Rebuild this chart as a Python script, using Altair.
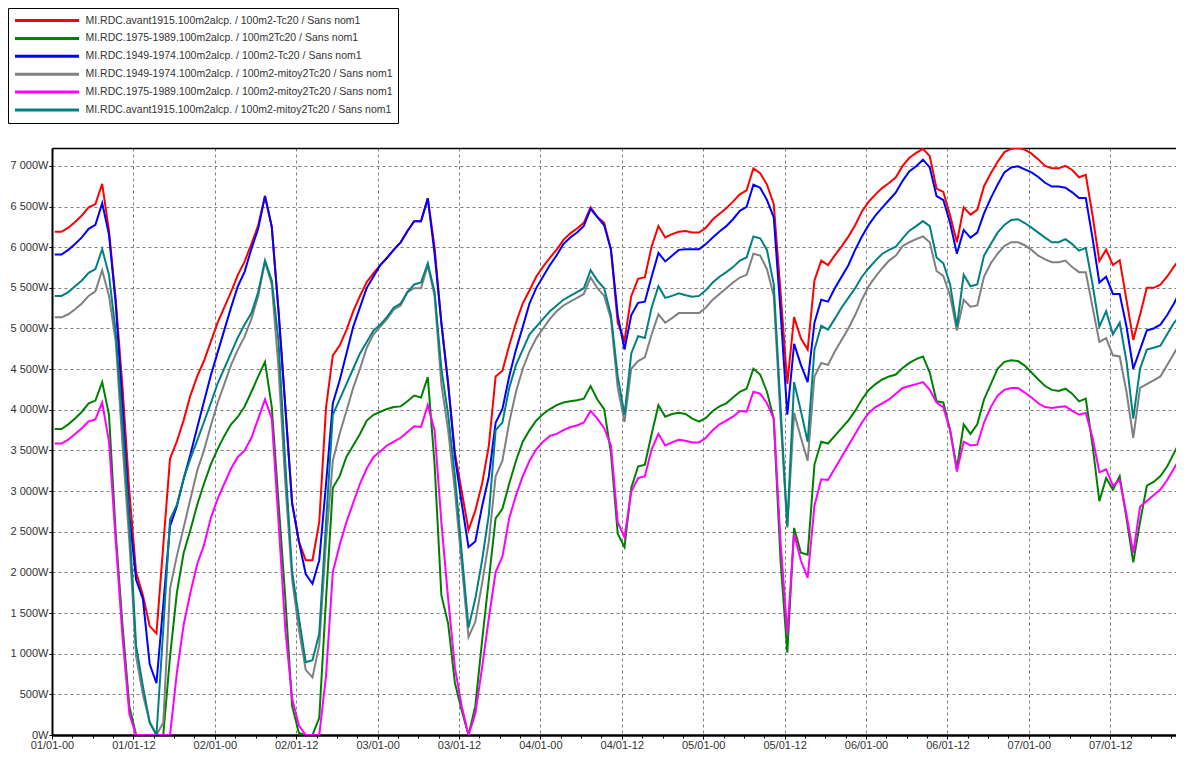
import altair as alt
import pandas as pd

FONT = "Liberation Sans"

series_names = [
    "MI.RDC.avant1915.100m2alcp. / 100m2-Tc20 / Sans nom1",
    "MI.RDC.1975-1989.100m2alcp. / 100m2Tc20 / Sans nom1",
    "MI.RDC.1949-1974.100m2alcp. / 100m2-Tc20 / Sans nom1",
    "MI.RDC.1949-1974.100m2alcp. / 100m2-mitoy2Tc20 / Sans nom1",
    "MI.RDC.1975-1989.100m2alcp. / 100m2-mitoy2Tc20 / Sans nom1",
    "MI.RDC.avant1915.100m2alcp. / 100m2-mitoy2Tc20 / Sans nom1",
]
series_colors = ["#ff0000", "#008000", "#0000ff", "#808080", "#ff00ff", "#008080"]

# hourly time stamps (hours since 01/01-00)
hours = [i + 0.4 for i in range(168)]

red = [
    6190, 6190, 6240, 6310, 6390, 6490, 6530, 6780, 6200, 5350, 4270, 3000,
    2000, 1720, 1340, 1250, 2330, 3400, 3610, 3870, 4175, 4410, 4600, 4835,
    5070, 5260, 5450, 5660, 5825, 6040, 6270, 6630, 6250, 5210, 4030, 2850,
    2380, 2150, 2150, 2620, 4030, 4670, 4790, 4980, 5210, 5400, 5570, 5680,
    5780, 5870, 5970, 6060, 6200, 6320, 6320, 6600, 6000, 5070, 4320, 3470,
    3000, 2520, 2760, 3090, 3560, 4410, 4480, 4790, 5070, 5310, 5470, 5640,
    5760, 5870, 5970, 6090, 6170, 6230, 6300, 6490, 6370, 6300, 5970, 5070,
    4850, 5400, 5610, 5630, 6010, 6260, 6120, 6160, 6190, 6200, 6180, 6180,
    6240, 6340, 6410, 6480, 6560, 6650, 6700, 6970, 6910, 6770, 6530, 5450,
    4320, 5140, 4880, 4740, 5590, 5835, 5780, 5900, 6010, 6130, 6270, 6440,
    6560, 6650, 6730, 6790, 6860, 7000, 7100, 7160, 7210, 7120, 6720, 6680,
    6390, 6060, 6490, 6400, 6460, 6750, 6910, 7050, 7170, 7210, 7220, 7200,
    7150, 7080, 7000, 6970, 6970, 7000, 6950, 6860, 6890, 6390, 5830, 5970,
    5780, 5840, 5350, 4860, 5170, 5500, 5500, 5540, 5640, 5760, 5870, 5970,
]
green = [
    3764, 3764, 3821, 3892, 3976, 4080, 4113, 4340, 3939, 2476, 1344, 354,
    0, 0, 0, 0, 0, 963, 1746, 2235, 2521, 2829, 3090, 3325,
    3514, 3679, 3821, 3915, 4040, 4222, 4410, 4590, 4033, 2854, 1675, 354,
    24, 0, 0, 212, 1675, 3042, 3184, 3420, 3561, 3703, 3868, 3939,
    3976, 4009, 4033, 4042, 4104, 4175, 4151, 4401, 3330, 1720, 1370, 640,
    300, 0, 354, 1156, 1910, 2665, 2783, 3090, 3373, 3608, 3750, 3868,
    3948, 4009, 4057, 4090, 4104, 4118, 4137, 4292, 4127, 4009, 3467, 2476,
    2311, 3042, 3302, 3326, 3703, 4057, 3915, 3948, 3962, 3948, 3892, 3854,
    3901, 3986, 4042, 4080, 4151, 4222, 4259, 4505, 4434, 4222, 3892, 2146,
    1014, 2547, 2241, 2217, 3326, 3608, 3585, 3679, 3774, 3868, 3986, 4127,
    4245, 4316, 4373, 4410, 4434, 4514, 4576, 4623, 4656, 4458, 4104, 4090,
    3750, 3278, 3821, 3703, 3821, 4127, 4316, 4505, 4590, 4608, 4599, 4543,
    4458, 4373, 4292, 4245, 4231, 4259, 4198, 4104, 4137, 3561, 2877, 3160,
    3019, 3184, 2665, 2123, 2618, 3066, 3113, 3184, 3302, 3467, 3632, 3750,
]
blue = [
    5910, 5910, 5967, 6040, 6120, 6226, 6274, 6542, 6156, 5300, 4030, 2710,
    1910, 1675, 873, 637, 1600, 2570, 2810, 3150, 3450, 3780, 4100, 4420,
    4700, 4980, 5260, 5520, 5700, 5980, 6230, 6630, 6250, 5210, 4030, 2850,
    2380, 1980, 1860, 2150, 3090, 4080, 4360, 4690, 5020, 5260, 5500, 5640,
    5780, 5870, 5970, 6060, 6200, 6320, 6320, 6600, 5920, 5070, 4320, 3420,
    2850, 2310, 2380, 2810, 3180, 3840, 4010, 4410, 4740, 5020, 5310, 5500,
    5640, 5780, 5900, 6040, 6120, 6180, 6260, 6470, 6370, 6270, 5970, 5165,
    4740, 5165, 5316, 5330, 5637, 5929, 5825, 5896, 5967, 5976, 5976, 5976,
    6038, 6118, 6193, 6259, 6344, 6448, 6495, 6769, 6731, 6580, 6368, 5212,
    3939, 4811, 4552, 4340, 5071, 5354, 5330, 5495, 5637, 5778, 5967, 6132,
    6274, 6391, 6486, 6580, 6675, 6816, 6934, 6995, 7076, 6981, 6627, 6580,
    6297, 5920, 6212, 6118, 6179, 6415, 6604, 6769, 6920, 6981, 6995, 6957,
    6920, 6863, 6792, 6745, 6745, 6731, 6675, 6604, 6604, 6109, 5566, 5637,
    5425, 5425, 5024, 4505, 4740, 4976, 5000, 5047, 5165, 5307, 5472, 5590,
]
gray = [
    5137, 5137, 5175, 5236, 5307, 5401, 5458, 5717, 5401, 4835, 3561, 2382,
    967, 495, 165, 0, 150, 1800, 2200, 2550, 2900, 3250, 3500, 3800,
    4080, 4316, 4552, 4740, 4900, 5118, 5401, 5825, 5542, 4505, 3090, 1910,
    1297, 802, 708, 1108, 2382, 3373, 3703, 3986, 4269, 4505, 4764, 4929,
    5024, 5118, 5236, 5283, 5448, 5495, 5495, 5778, 5401, 4316, 3750, 2995,
    2099, 1203, 1392, 1863, 2382, 3184, 3373, 3844, 4222, 4505, 4717, 4882,
    5000, 5118, 5212, 5283, 5330, 5377, 5425, 5627, 5495, 5401, 5118, 4269,
    3850, 4505, 4599, 4646, 4929, 5174, 5071, 5127, 5189, 5189, 5189, 5189,
    5259, 5354, 5425, 5495, 5566, 5627, 5660, 5920, 5896, 5731, 5400, 3900,
    2550, 3962, 3656, 3373, 4410, 4576, 4552, 4717, 4859, 5000, 5165, 5354,
    5519, 5637, 5741, 5835, 5896, 6014, 6061, 6099, 6132, 6061, 5708, 5646,
    5401, 4976, 5354, 5269, 5283, 5637, 5802, 5920, 6014, 6061, 6061, 6024,
    5967, 5896, 5849, 5816, 5816, 5835, 5755, 5693, 5693, 5259, 4835, 4882,
    4670, 4656, 4222, 3656, 4269, 4316, 4363, 4410, 4552, 4693, 4835, 4953,
]
magenta = [
    3585, 3585, 3632, 3703, 3774, 3858, 3882, 4090, 3608, 2382, 1203, 259,
    0, 0, 0, 0, 0, 0, 760, 1350, 1750, 2100, 2335, 2665,
    2901, 3090, 3278, 3420, 3500, 3656, 3892, 4127, 3892, 2618, 1297, 448,
    118, 0, 0, 0, 731, 2005, 2335, 2618, 2854, 3090, 3278, 3420,
    3491, 3561, 3608, 3656, 3726, 3797, 3788, 4057, 3750, 2618, 1675, 825,
    354, 0, 259, 825, 1439, 2005, 2193, 2665, 2948, 3184, 3373, 3514,
    3608, 3679, 3703, 3750, 3788, 3807, 3844, 3986, 3892, 3774, 3561, 2618,
    2429, 2995, 3160, 3184, 3514, 3703, 3561, 3599, 3632, 3618, 3599, 3599,
    3656, 3750, 3821, 3868, 3915, 3986, 3976, 4222, 4198, 4080, 3892, 2382,
    1250, 2476, 2146, 1934, 2820, 3146, 3137, 3278, 3420, 3561, 3703, 3844,
    3962, 4033, 4080, 4127, 4198, 4269, 4292, 4316, 4340, 4245, 4090, 4033,
    3750, 3241, 3608, 3561, 3571, 3844, 4033, 4175, 4245, 4269, 4269, 4212,
    4151, 4080, 4033, 4023, 4033, 4042, 3986, 3939, 3962, 3656, 3231, 3269,
    3066, 3137, 2712, 2240, 2807, 2877, 2948, 3019, 3137, 3278, 3420, 3561,
]
teal = [
    5400, 5400, 5448, 5519, 5590, 5684, 5731, 5976, 5660, 4950, 3800, 2600,
    1100, 600, 150, 0, 1300, 2650, 2830, 3150, 3400, 3620, 3850, 4080,
    4320, 4510, 4700, 4890, 5050, 5189, 5448, 5835, 5590, 4835, 3326, 2005,
    1439, 896, 920, 1250, 2618, 3939, 4127, 4316, 4505, 4693, 4835, 4976,
    5047, 5142, 5259, 5307, 5448, 5542, 5566, 5802, 5450, 4505, 3939, 3184,
    2241, 1321, 1675, 2146, 2712, 3750, 3844, 4269, 4552, 4740, 4929, 5024,
    5118, 5212, 5283, 5354, 5401, 5448, 5495, 5717, 5590, 5495, 5165, 4410,
    3939, 4693, 4906, 4882, 5259, 5519, 5377, 5401, 5434, 5410, 5392, 5401,
    5472, 5566, 5637, 5693, 5755, 5835, 5873, 6132, 6109, 5967, 5542, 4033,
    2571, 4340, 3986, 3608, 4740, 5033, 4986, 5118, 5259, 5377, 5495, 5637,
    5741, 5835, 5920, 5967, 6005, 6109, 6203, 6259, 6321, 6259, 5873, 5802,
    5542, 5024, 5660, 5519, 5542, 5896, 6038, 6179, 6274, 6335, 6344, 6297,
    6241, 6179, 6118, 6061, 6061, 6099, 6038, 5958, 5991, 5542, 5024, 5212,
    4929, 5071, 4599, 3892, 4505, 4740, 4764, 4788, 4929, 5071, 5165, 5236,
]

series_values = [red, green, blue, gray, magenta, teal]

x_tick_values = list(range(0, 166, 3))
y_tick_values = list(range(0, 7001, 500))

rows = []
for name, vals in zip(series_names, series_values):
    for h, v in zip(hours, vals):
        rows.append({"h": h, "W": v, "serie": name})
df = pd.DataFrame(rows)

PLOT_W = 1124
PLOT_H = 587
PX_PER_HOUR = 81.4 / 12
X_MAX = PLOT_W / PX_PER_HOUR

x_scale = alt.Scale(domain=[0, X_MAX], nice=False, zero=False)
y_scale = alt.Scale(domain=[0, 7220], nice=False)

x_axis = alt.Axis(
    values=x_tick_values,
    title=None,
    labelExpr=(
        "datum.value % 12 === 0 ? ('0' + (floor(datum.value / 24) + 1) + '/01-' + "
        "(datum.value % 24 === 0 ? '00' : '12')) : ''"
    ),
    labelFont=FONT, labelFontSize=11, labelColor="#333333", labelPadding=0,
    labelAngle=0, labelOverlap=False, labelFlush=False,
    tickSize={"condition": {"test": "datum.value % 12 === 0", "value": 4}, "value": 3},
    gridOpacity={"condition": {"test": "datum.value % 12 === 0", "value": 1}, "value": 0},
    tickColor="black", tickWidth=1,
    domainColor="black", domainWidth=2.5,
    grid=True, gridColor="#808080", gridDash=[3, 3], gridWidth=1,
)
y_axis = alt.Axis(
    values=y_tick_values,
    title=None,
    labelExpr="replace(format(datum.value, ',d'), ',', ' ') + 'W'",
    labelFont=FONT, labelFontSize=11, labelColor="#333333", labelPadding=1,
    tickSize=3, tickColor="black",
    domainColor="black", domainWidth=2,
    grid=True, gridColor="#808080", gridDash=[3, 3], gridWidth=1,
)

lines = alt.Chart(df).mark_line(strokeWidth=2, clip=True).encode(
    x=alt.X("h:Q", scale=x_scale, axis=x_axis),
    y=alt.Y("W:Q", scale=y_scale, axis=y_axis),
    color=alt.Color(
        "serie:N",
        scale=alt.Scale(domain=series_names, range=series_colors),
        legend=alt.Legend(
            title=None, orient="none", legendX=-44, legendY=-140,
            direction="vertical",
            symbolType="stroke", symbolSize=4096, symbolStrokeWidth=3,
            clipHeight=14, rowPadding=3.9, padding=5.5,
            strokeColor="black", fillColor="white",
            labelFont=FONT, labelFontSize=10.5, labelColor="#333333",
            labelLimit=500, labelOffset=5,
        ),
    ),
    order=alt.Order("h:Q"),
)

# top frame line of the plot area (drawn as a top axis with only its domain)
top_frame = alt.Chart(df).mark_line(opacity=0).encode(
    x=alt.X("h:Q", scale=x_scale, axis=alt.Axis(
        orient="top", title=None, labels=False, ticks=False, grid=False,
        domainColor="black", domainWidth=1.5)),
    y=alt.Y("W:Q", scale=y_scale, axis=None),
)

chart = alt.layer(lines, top_frame).resolve_axis(
    x="independent", y="independent"
).properties(
    width=PLOT_W, height=PLOT_H,
    autosize=alt.AutoSizeParams(type="none"),
    padding={"left": 44, "top": 140, "right": 0, "bottom": 15},
).configure_view(
    stroke=None, fill="white",
).configure(background="white")

chart.save("out.html", embed_options={"renderer": "svg", "actions": False})
